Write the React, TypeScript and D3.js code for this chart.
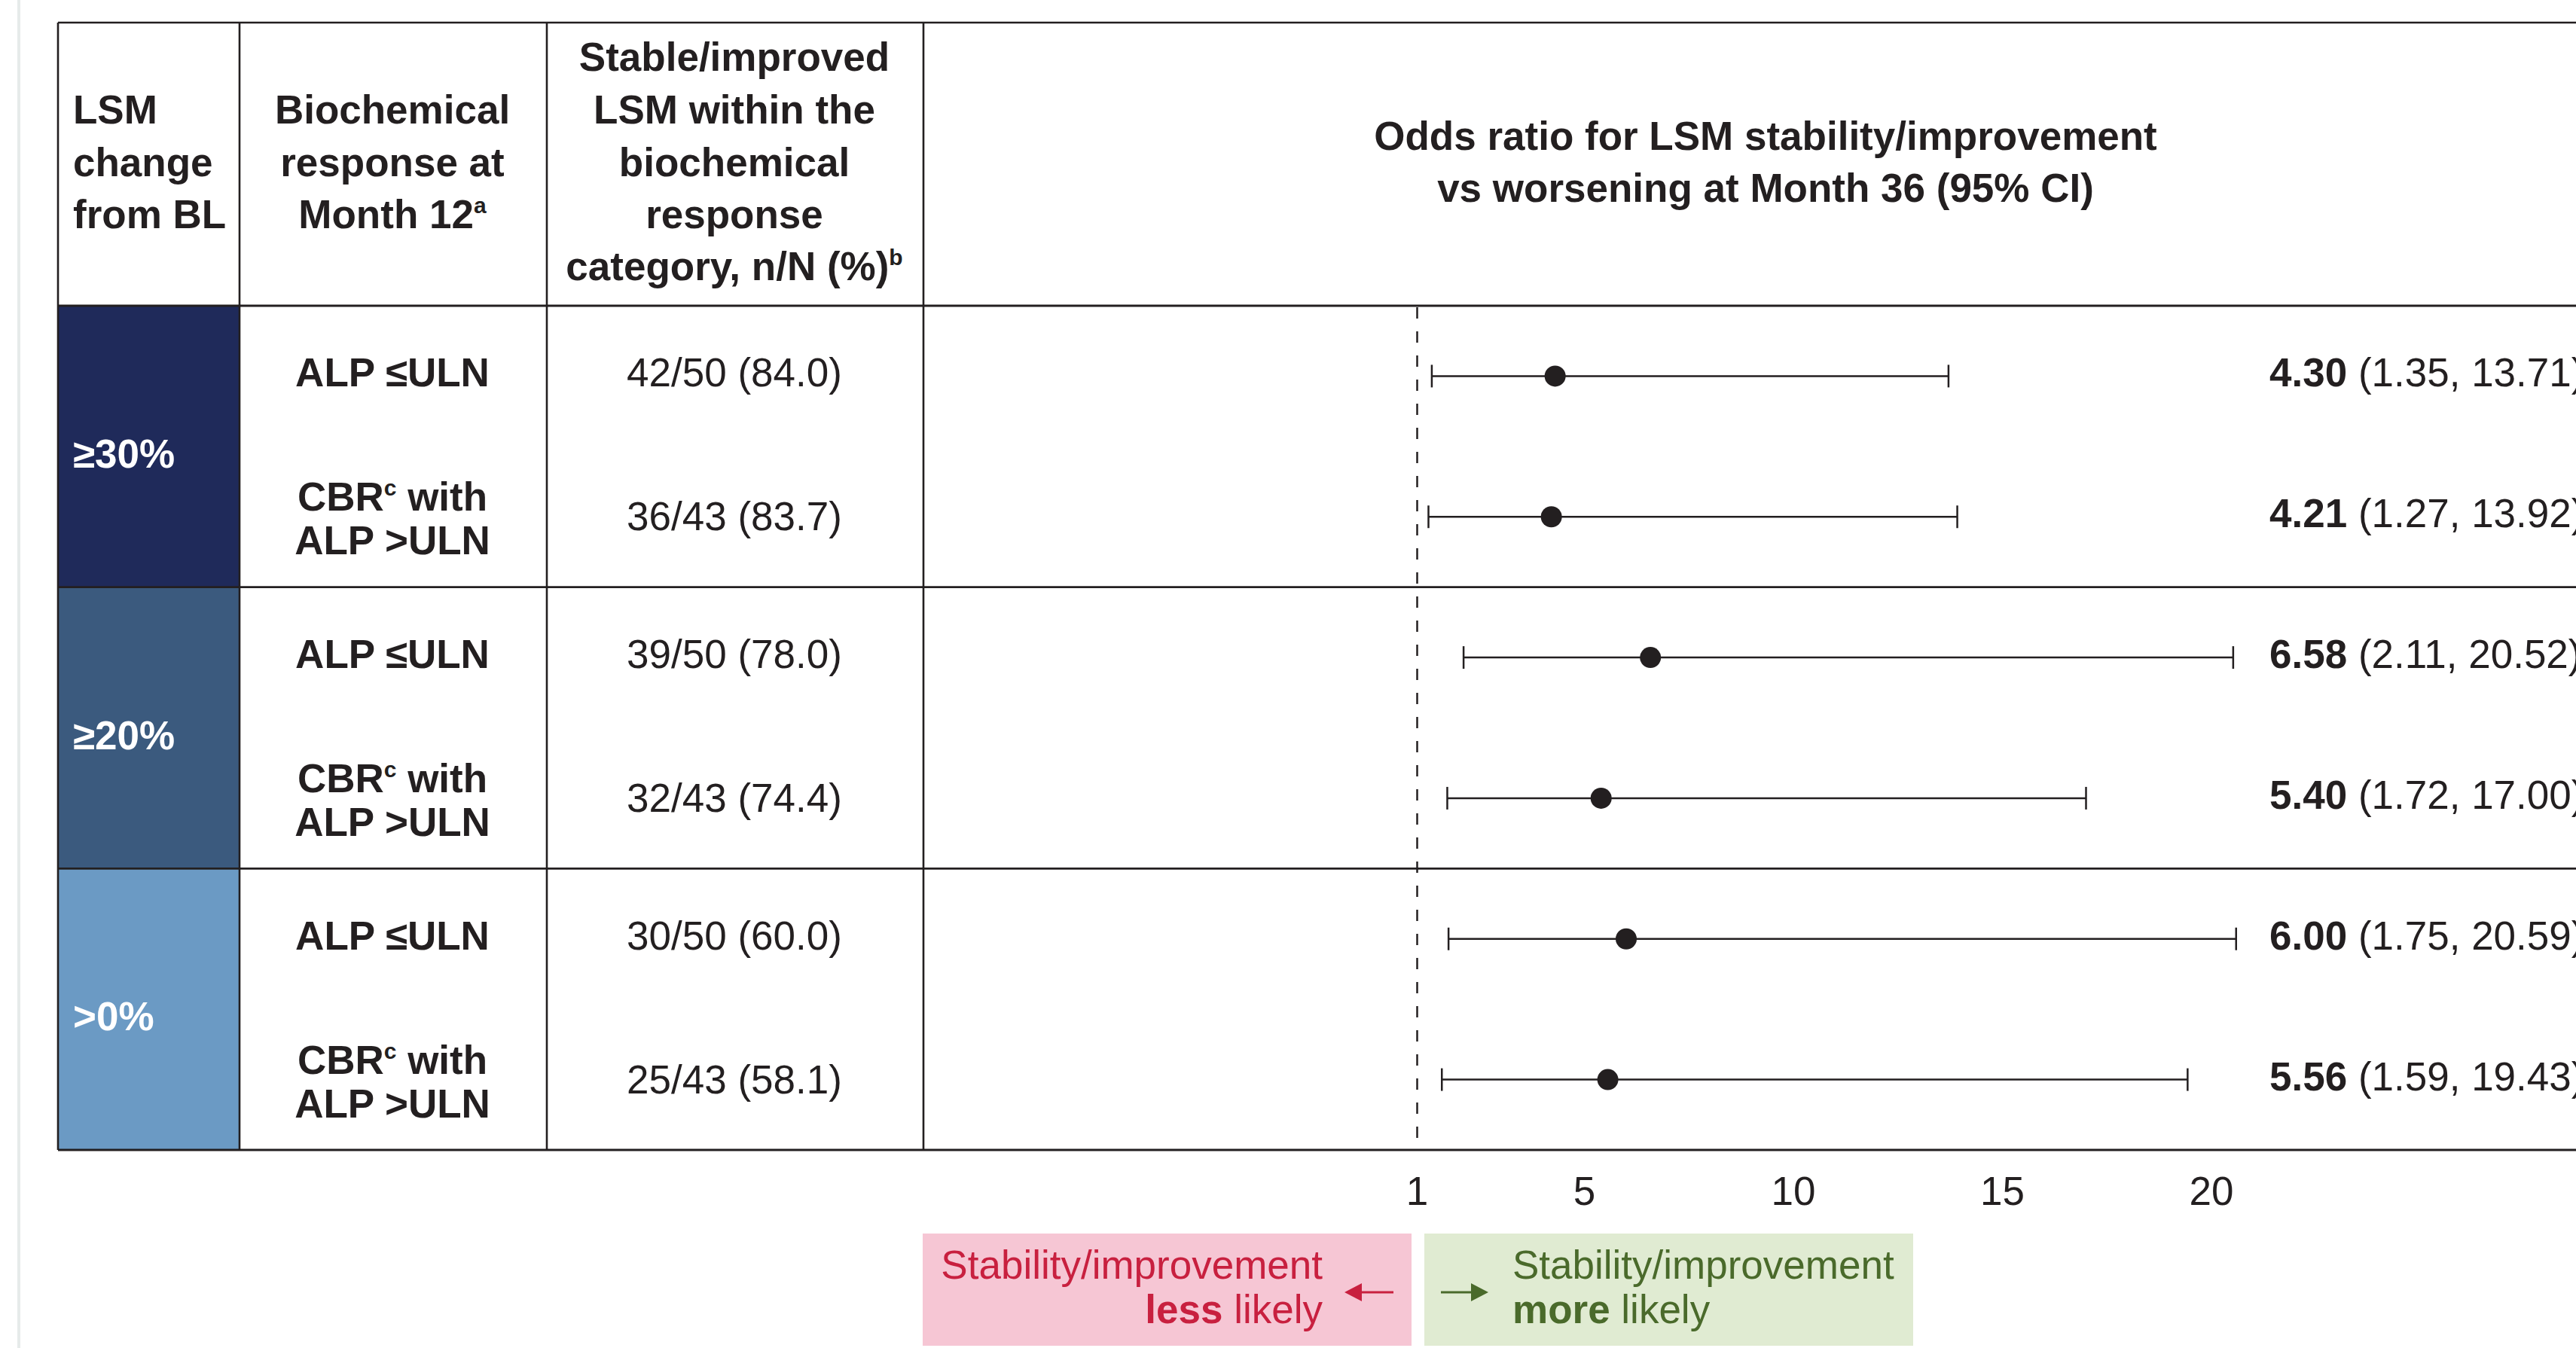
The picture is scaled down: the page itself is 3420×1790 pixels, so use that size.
import React from "react";
import * as d3 from "d3";

// ---------- data ----------
const groups = ["≥30%", "≥20%", ">0%"];
const responseKinds = ["alp", "cbr", "alp", "cbr", "alp", "cbr"];
const counts = [
  "42/50 (84.0)",
  "36/43 (83.7)",
  "39/50 (78.0)",
  "32/43 (74.4)",
  "30/50 (60.0)",
  "25/43 (58.1)",
];
const oddsRatio = [4.3, 4.21, 6.58, 5.4, 6.0, 5.56];
const ciLower = [1.35, 1.27, 2.11, 1.72, 1.75, 1.59];
const ciUpper = [13.71, 13.92, 20.52, 17.0, 20.59, 19.43];
const xTicks = [1, 5, 10, 15, 20];

// ---------- styles ----------
const W = 3420;
const H = 1790;
const FONT = "'Liberation Sans', Arial, Helvetica, sans-serif";
const INK = "#231f20";
const groupFill = ["#1f2a5a", "#3b5a7e", "#6b9ac4"];
const FS = 53;

export default function App() {
  const tableLeft = 77;
  const colX = [77, 318, 726, 1226];
  const tableTop = 30;
  const headerBottom = 406;
  const tableBottom = 1527;
  const rowIds = counts.map((_, i) => i);

  const x = d3.scaleLinear().domain([1, 20]).range([1881.5, 2936]);
  const yRow = d3
    .scaleBand<number>()
    .domain(rowIds)
    .range([headerBottom, tableBottom])
    .padding(0);
  const yGroup = d3
    .scaleBand<string>()
    .domain(groups)
    .range([headerBottom, tableBottom])
    .padding(0);
  const rc = (i: number) => (yRow(i) as number) + yRow.bandwidth() / 2;

  const col2c = 521;
  const col3c = 975;

  return (
    <>
      <style>{"body{margin:0;background:#fff}"}</style>
      <svg
        width={W}
        height={H}
        viewBox={`0 0 ${W} ${H}`}
        style={{ display: "block", fontFamily: FONT }}
      >
        <rect x={0} y={0} width={W} height={H} fill="#fff" />
        <rect x={23} y={0} width={4} height={H} fill="#e6ebea" />

        {/* group fills */}
        {groups.map((g, gi) => (
          <rect
            key={g}
            x={colX[0]}
            y={yGroup(g) as number}
            width={colX[1] - colX[0]}
            height={yGroup.bandwidth()}
            fill={groupFill[gi]}
          />
        ))}

        {/* table lines */}
        <g stroke={INK} strokeWidth={2.6} fill="none">
          <line x1={tableLeft} x2={W + 10} y1={tableTop} y2={tableTop} />
          <line x1={tableLeft} x2={W + 10} y1={headerBottom} y2={headerBottom} strokeWidth={3} />
          {groups.slice(1).map((g) => (
            <line
              key={g}
              x1={tableLeft}
              x2={W + 10}
              y1={yGroup(g) as number}
              y2={yGroup(g) as number}
            />
          ))}
          <line x1={tableLeft} x2={W + 10} y1={tableBottom} y2={tableBottom} strokeWidth={3} />
          {colX.map((cx) => (
            <line key={cx} x1={cx} x2={cx} y1={tableTop} y2={tableBottom} />
          ))}
        </g>

        {/* header */}
        <g fill={INK} fontWeight="bold" fontSize={FS}>
          <text x={97} y={164}>LSM</text>
          <text x={97} y={234}>change</text>
          <text x={97} y={303}>from BL</text>

          <text x={col2c} y={164} textAnchor="middle">Biochemical</text>
          <text x={col2c} y={234} textAnchor="middle">response at</text>
          <text x={col2c} y={303} textAnchor="middle">
            Month 12
            <tspan fontSize={30} dy={-20}>a</tspan>
          </text>

          <text x={col3c} y={94} textAnchor="middle">Stable/improved</text>
          <text x={col3c} y={164} textAnchor="middle">LSM within the</text>
          <text x={col3c} y={234} textAnchor="middle">biochemical</text>
          <text x={col3c} y={303} textAnchor="middle">response</text>
          <text x={col3c} y={372} textAnchor="middle">
            category, n/N (%)
            <tspan fontSize={30} dy={-20}>b</tspan>
          </text>

          <text x={2344} y={199} textAnchor="middle">
            Odds ratio for LSM stability/improvement
          </text>
          <text x={2344} y={268} textAnchor="middle">
            vs worsening at Month 36 (95% CI)
          </text>
        </g>

        {/* group labels */}
        {groups.map((g) => (
          <text
            key={g}
            x={97}
            y={(yGroup(g) as number) + yGroup.bandwidth() / 2 + 28}
            fill="#fff"
            fontWeight="bold"
            fontSize={FS}
          >
            {g}
          </text>
        ))}

        {/* response labels and counts */}
        {rowIds.map((i) => {
          const c = rc(i);
          const kind = responseKinds[i];
          return (
            <g key={i} fill={INK} fontSize={FS}>
              {kind === "alp" ? (
                <text x={col2c} y={c + 14} textAnchor="middle" fontWeight="bold">
                  ALP ≤ULN
                </text>
              ) : (
                <>
                  <text x={col2c} y={c - 8} textAnchor="middle" fontWeight="bold">
                    CBR
                    <tspan fontSize={30} dy={-20}>c</tspan>
                    <tspan dy={20}>{" with"}</tspan>
                  </text>
                  <text x={col2c} y={c + 50} textAnchor="middle" fontWeight="bold">
                    ALP &gt;ULN
                  </text>
                </>
              )}
              <text x={col3c} y={c + (kind === "alp" ? 14 : 18)} textAnchor="middle">
                {counts[i]}
              </text>
            </g>
          );
        })}

        {/* reference line at OR = 1 */}
        <line
          x1={x(1)}
          x2={x(1)}
          y1={headerBottom + 2}
          y2={1513}
          stroke={INK}
          strokeWidth={2.5}
          strokeDasharray="15 17"
        />

        {/* CI bars and points */}
        {rowIds.map((i) => {
          const c = rc(i);
          return (
            <g key={i} stroke={INK}>
              <line x1={x(ciLower[i])} x2={x(ciUpper[i])} y1={c} y2={c} strokeWidth={2.5} />
              <line x1={x(ciLower[i])} x2={x(ciLower[i])} y1={c - 15} y2={c + 15} strokeWidth={2.5} />
              <line x1={x(ciUpper[i])} x2={x(ciUpper[i])} y1={c - 15} y2={c + 15} strokeWidth={2.5} />
              <circle cx={x(oddsRatio[i])} cy={c} r={14} fill={INK} stroke="none" />
              <text x={3013} y={c + 14} fontSize={FS} fill={INK} stroke="none">
                <tspan fontWeight="bold">{oddsRatio[i].toFixed(2)}</tspan>
                {` (${ciLower[i].toFixed(2)}, ${ciUpper[i].toFixed(2)})`}
              </text>
            </g>
          );
        })}

        {/* x tick labels */}
        {xTicks.map((t) => (
          <text key={t} x={x(t)} y={1600} textAnchor="middle" fontSize={FS} fill={INK}>
            {t}
          </text>
        ))}

        {/* direction legend */}
        <rect x={1225} y={1638} width={649} height={149} fill="#f6c6d4" />
        <rect x={1891} y={1638} width={649} height={149} fill="#e0ebd2" />
        <g fill="#c8203f" fontSize={FS}>
          <text x={1756} y={1698} textAnchor="end">Stability/improvement</text>
          <text x={1756} y={1757} textAnchor="end">
            <tspan fontWeight="bold">less</tspan> likely
          </text>
        </g>
        <line x1={1800} x2={1850} y1={1716} y2={1716} stroke="#c8203f" strokeWidth={3} />
        <path d="M1785,1716 L1808,1704 L1808,1728 Z" fill="#c8203f" />
        <g fill="#4a6a2b" fontSize={FS}>
          <text x={2008} y={1698}>Stability/improvement</text>
          <text x={2008} y={1757}>
            <tspan fontWeight="bold">more</tspan> likely
          </text>
        </g>
        <line x1={1913} x2={1962} y1={1716} y2={1716} stroke="#4a6a2b" strokeWidth={3} />
        <path d="M1976,1716 L1953,1704 L1953,1728 Z" fill="#4a6a2b" />
      </svg>
    </>
  );
}
